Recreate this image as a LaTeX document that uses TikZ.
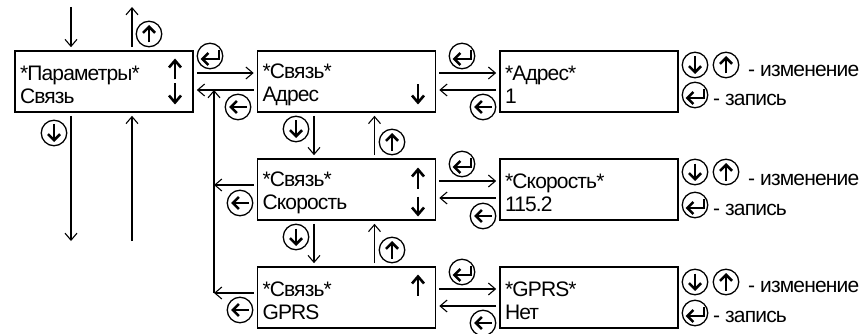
\documentclass[tikz,border=0pt]{standalone}
\usepackage{fontspec}
\setmainfont[LetterSpace=-4]{Liberation Sans}
\usetikzlibrary{arrows.meta,calc}
\tikzset{
  x=1pt,y=-1pt,
  lcd/.style={draw,line width=1.6pt,minimum width=178pt,minimum height=61pt,inner sep=0pt,inner xsep=5pt,
    text width=168pt,align=left,font=\fontsize{21}{23}\selectfont,
    execute at begin node={\rule{0pt}{21pt}}},
  conn/.style={line width=1.2pt,-{Straight Barb[length=7pt,width=12pt,line width=1.1pt]}},
  glyph/.style={line width=2.8pt,-{Straight Barb[length=6pt,width=12pt,line width=2.6pt]}},
  inbox/.style={line width=2.8pt,-{Straight Barb[length=7pt,width=12pt,line width=2.6pt]}},
  key/.style={circle,draw,line width=1.3pt,minimum size=25.5pt,inner sep=0pt},
  kdown/.style={key,path picture={\draw[glyph] ([yshift=8.5pt]path picture bounding box.center)--([yshift=-9pt]path picture bounding box.center);}},
  kup/.style={key,path picture={\draw[glyph] ([yshift=-8.5pt]path picture bounding box.center)--([yshift=9pt]path picture bounding box.center);}},
  kleft/.style={key,path picture={\draw[glyph] ([xshift=8.5pt]path picture bounding box.center)--([xshift=-9pt]path picture bounding box.center);}},
  kenter/.style={key,path picture={\draw[glyph] ([shift={(9pt,6pt)}]path picture bounding box.center)--([shift={(9pt,-3pt)}]path picture bounding box.center)--([shift={(-9.5pt,-3pt)}]path picture bounding box.center);}},
  legend/.style={inner sep=0pt,anchor=base west,font=\fontsize{21}{22}\selectfont},
}
\begin{document}
\begin{tikzpicture}
\useasboundingbox (0,0) rectangle (864,334);
% boxes
\node[lcd] (p)  at (104,81.5) {*Параметры*\\Связь};
\node[lcd] (a)  at (346.5,81.5) {*Связь*\\Адрес};
\node[lcd] (s)  at (346.5,189.5) {*Связь*\\Скорость};
\node[lcd] (g)  at (346.5,297.5) {*Связь*\\GPRS};
\node[lcd] (av) at (589,81.5) {*Адрес*\\1};
\node[lcd] (sv) at (589,189.5) {*Скорость*\\115.2};
\node[lcd] (gv) at (589,297.5) {*GPRS*\\Нет};
% arrows inside the boxes
\draw[inbox] ([shift={(71,-2)}]p.center) -- ([shift={(71,-23)}]p.center);
\draw[inbox] ([shift={(71,2)}]p.center) -- ([shift={(71,23)}]p.center);
\draw[inbox] ([shift={(71.5,3)}]a.center) -- ([shift={(71.5,23)}]a.center);
\draw[inbox] ([shift={(71.5,-1)}]s.center) -- ([shift={(71.5,-22)}]s.center);
\draw[inbox] ([shift={(71.5,7)}]s.center) -- ([shift={(71.5,27)}]s.center);
\draw[inbox] ([shift={(71.5,-2)}]g.center) -- ([shift={(71.5,-23)}]g.center);
% outer free ends
\coordinate (ti) at (71,7);
\coordinate (to) at (132,7);
\coordinate (bo) at (71,241);
\coordinate (bi) at (132,241);
\coordinate (j)  at (214,90);
\coordinate (jb) at (214,293);
\draw[conn] (ti) -- ([yshift=3pt]ti |- p.north);
\draw[conn] ([yshift=3pt]to |- p.north) -- (to);
\draw[conn] ([yshift=-3pt]bo |- p.south) -- (bo);
\draw[conn] (bi) -- ([yshift=-3pt]bi |- p.south);
% horizontal
\draw[conn] ([shift={(3,-8.5)}]p.east) -- ([shift={(-3,-8.5)}]a.west);
\draw[conn] ([shift={(-3,8.5)}]a.west) -- ([shift={(3,8.5)}]p.east);
\draw[conn] ([shift={(3,-8.5)}]a.east) -- ([shift={(-3,-8.5)}]av.west);
\draw[conn] ([shift={(-3,8.5)}]av.west) -- ([shift={(3,8.5)}]a.east);
\draw[conn] ([shift={(3,-8.5)}]s.east) -- ([shift={(-3,-8.5)}]sv.west);
\draw[conn] ([shift={(-3,8.5)}]sv.west) -- ([shift={(3,8.5)}]s.east);
\draw[conn] ([shift={(3,-8.5)}]g.east) -- ([shift={(-3,-8.5)}]gv.west);
\draw[conn] ([shift={(-3,8.5)}]gv.west) -- ([shift={(3,8.5)}]g.east);
% return bus
\draw[conn] (jb) -- (j);
\draw[conn] ([shift={(-3,-4.5)}]s.west) -- (jb |- {$(s.west)+(0,-4.5)$});
\draw[conn] ([shift={(-3,-4.5)}]g.west) -- (jb);
% vertical between the boxes
\draw[conn] ([shift={(314,3)}]a.south -| 0,0) -- ([shift={(314,-3)}]s.north -| 0,0);
\draw[conn] ([shift={(374.5,-3)}]s.north -| 0,0) -- ([shift={(374.5,3)}]a.south -| 0,0);
\draw[conn] ([shift={(314,3)}]s.south -| 0,0) -- ([shift={(314,-3)}]g.north -| 0,0);
\draw[conn] ([shift={(374.5,-3)}]g.north -| 0,0) -- ([shift={(374.5,3)}]s.south -| 0,0);
% keys
\node[kup]    (k1)  at (149,34) {};
\node[kdown]  (k2)  at (54,133) {};
\node[kenter] (k3)  at (210,56) {};
\node[kleft]  (k4)  at (238,107) {};
\node[kleft]  (k5)  at (240,203) {};
\node[kleft]  (k6)  at (240,310) {};
\node[kdown]  (k7)  at (296,129) {};
\node[kup]    (k8)  at (392,142) {};
\node[kdown]  (k9)  at (296,237) {};
\node[kup]    (k10) at (392,250) {};
\node[kenter] (k11) at (462,56) {};
\node[kleft]  (k12) at (483,107) {};
\node[kenter] (k13) at (462,164) {};
\node[kleft]  (k14) at (483,216) {};
\node[kenter] (k15) at (462,272) {};
\node[kleft]  (k16) at (483,323) {};
% legends
\node[kdown]  (l1)  at (695,65) {};
\node[kup]    (l2)  at (726,65) {};
\node[kenter] (l3)  at (695,95) {};
\node[legend] (t1)  at (748,77) {- изменение};
\node[legend] (t2)  at (713,106) {- запись};
\node[kdown]  (l4)  at (695,172) {};
\node[kup]    (l5)  at (726,172) {};
\node[kenter] (l6)  at (695,205) {};
\node[legend] (t3)  at (748,185) {- изменение};
\node[legend] (t4)  at (713,215) {- запись};
\node[kdown]  (l7)  at (695,282) {};
\node[kup]    (l8)  at (726,282) {};
\node[kenter] (l9)  at (695,313) {};
\node[legend] (t5)  at (748,292) {- изменение};
\node[legend] (t6)  at (713,322) {- запись};
\end{tikzpicture}
\end{document}
